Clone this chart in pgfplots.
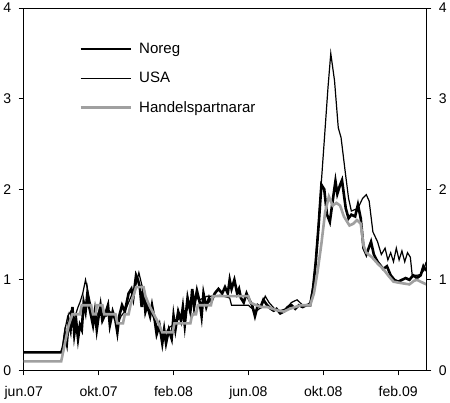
\documentclass[border=0pt]{standalone}
\usepackage{fontspec}
\setmainfont{Liberation Sans}
\usepackage{pgfplots}
\pgfplotsset{compat=1.18}
\definecolor{hpgray}{RGB}{160,160,160}
\pgfplotsset{
  frame/.style={
    scale only axis, width=400bp, height=360bp,
    xmin=0, xmax=21.5, ymin=0, ymax=4,
    ytick={0,1,2,3,4},
    tick align=outside,
    major tick length=5bp,
    tick style={black, line width=0.8pt},
    axis line style={line width=0.8pt},
    /pgf/number format/assume math mode=true,
    tick label style={font=\fontsize{14}{16}\selectfont},
  }
}
\begin{document}
\begin{tikzpicture}
\begin{axis}[
  frame,
  xtick={0,4,8,12,16,20},
  xticklabels={jun.07,okt.07,feb.08,jun.08,okt.08,feb.09},
  xtick pos=left, ytick pos=left,
  xticklabel style={yshift=-7bp},
  yticklabel style={xshift=-4bp},
  legend style={draw=none, fill=none, at={(rel axis cs:0.13,0.915)}, anchor=north west,
    font=\fontsize{15}{17}\selectfont, row sep=13bp},
  legend cell align=left,
  legend image code/.code={\draw[#1] (0bp,0bp) -- (50bp,0bp); \path (55bp,0bp);},
]
% Noreg
\addplot[black, line width=2.6pt] coordinates {
(0,0.2) (2.0,0.2) (2.1,0.25) (2.2,0.4) (2.3,0.3) (2.4,0.55) (2.5,0.45) (2.6,0.7) (2.7,0.4)
(2.8,0.55) (2.9,0.35) (3.0,0.5) (3.1,0.45) (3.2,0.75) (3.3,0.65) (3.4,0.85) (3.5,0.7)
(3.6,0.6) (3.7,0.5) (3.8,0.65) (3.9,0.45) (4.0,0.6) (4.1,0.72) (4.2,0.55) (4.35,0.62)
(4.5,0.72) (4.6,0.5) (4.75,0.65) (4.9,0.55) (5.0,0.42) (5.1,0.6) (5.25,0.72) (5.4,0.65)
(5.5,0.75) (5.6,0.85) (5.75,0.9) (5.85,0.8) (6.0,1.05) (6.1,1.0) (6.2,0.92) (6.3,0.7)
(6.4,0.9) (6.5,0.65) (6.6,0.72) (6.75,0.6) (6.85,0.72) (7.0,0.55) (7.1,0.4) (7.25,0.5)
(7.4,0.3) (7.5,0.45) (7.6,0.3) (7.75,0.45) (7.9,0.35) (8.0,0.6) (8.1,0.45) (8.25,0.65)
(8.4,0.55) (8.5,0.7) (8.6,0.5) (8.75,0.8) (8.9,0.65) (9.0,0.9) (9.1,0.7) (9.25,0.88)
(9.4,0.75) (9.5,0.6) (9.6,0.85) (9.75,0.7) (9.9,0.8) (10.0,0.75) (10.2,0.85) (10.4,0.9)
(10.6,0.85) (10.75,0.92) (10.9,0.85) (11.0,1.0) (11.1,0.9) (11.25,1.0) (11.4,0.85)
(11.5,0.9) (11.6,0.8) (11.75,0.75) (11.9,0.85) (12.0,0.8) (12.2,0.72) (12.35,0.6)
(12.5,0.72) (12.65,0.7) (12.8,0.78) (13.0,0.72) (13.2,0.68) (13.35,0.66) (13.5,0.68)
(13.7,0.63) (13.9,0.65) (14.1,0.7) (14.3,0.72) (14.5,0.68) (14.7,0.72) (14.9,0.7)
(15.1,0.72) (15.3,0.72) (15.45,0.9) (15.6,1.2) (15.75,1.6) (15.9,2.05) (16.05,2.0)
(16.2,1.72) (16.35,1.64) (16.5,1.87) (16.65,2.09) (16.75,1.95) (16.9,2.05) (17.0,2.1)
(17.2,1.79) (17.35,1.68) (17.5,1.72) (17.7,1.7) (17.85,1.83) (18.0,1.68) (18.15,1.35)
(18.3,1.28) (18.55,1.42) (18.7,1.28) (18.9,1.2) (19.2,1.12) (19.4,1.15) (19.6,1.05)
(19.8,1.0) (20.0,0.98) (20.2,1.0) (20.4,1.02) (20.6,1.0) (20.8,1.05) (21.0,1.02)
(21.2,1.05) (21.35,1.15) (21.5,1.1)
};
\addlegendentry{Noreg}
% USA
\addplot[black, line width=1.2pt] coordinates {
(0,0.2) (2.0,0.2) (2.1,0.3) (2.2,0.45) (2.35,0.6) (2.5,0.65) (2.6,0.5) (2.75,0.6)
(2.9,0.7) (3.0,0.75) (3.15,0.85) (3.3,1.0) (3.45,0.85) (3.6,0.7) (3.75,0.55) (3.9,0.6)
(4.0,0.65) (4.2,0.62) (4.4,0.6) (4.6,0.65) (4.8,0.6) (5.0,0.5) (5.2,0.6) (5.4,0.65)
(5.6,0.75) (5.8,0.85) (6.0,0.95) (6.15,1.08) (6.3,0.95) (6.45,0.82) (6.6,0.7) (6.8,0.65)
(7.0,0.55) (7.2,0.45) (7.4,0.4) (7.6,0.42) (7.8,0.48) (8.0,0.5) (8.2,0.55) (8.4,0.6)
(8.6,0.62) (8.8,0.7) (9.0,0.75) (9.2,0.8) (9.4,0.78) (9.6,0.8) (9.8,0.82) (10.0,0.82)
(10.5,0.83) (11.0,0.8) (11.1,0.72) (11.5,0.72) (12.0,0.72) (12.1,0.7) (12.4,0.65)
(12.7,0.7) (12.9,0.82) (13.1,0.75) (13.4,0.68) (13.7,0.66) (14.0,0.68) (14.3,0.75)
(14.6,0.78) (14.9,0.72) (15.1,0.72) (15.3,0.75) (15.5,1.0) (15.7,1.5) (15.9,2.09)
(16.05,2.53) (16.25,3.12) (16.4,3.5) (16.6,3.2) (16.8,2.68) (16.95,2.57) (17.15,2.23)
(17.35,1.9) (17.5,1.76) (17.85,1.79) (18.1,1.9) (18.3,1.94) (18.45,1.87) (18.65,1.53)
(18.9,1.42) (19.1,1.28) (19.3,1.35) (19.45,1.22) (19.6,1.3) (19.75,1.2) (19.9,1.35)
(20.05,1.22) (20.2,1.32) (20.35,1.2) (20.5,1.3) (20.65,1.25) (20.75,1.05) (21.0,1.05)
(21.2,1.06) (21.35,1.1) (21.5,1.2)
};
\addlegendentry{USA}
% Handelspartnarar
\addplot[hpgray, line width=2.6pt] coordinates {
(0,0.1) (2.0,0.1) (2.1,0.2) (2.25,0.35) (2.4,0.5) (2.6,0.62) (3.0,0.62) (3.1,0.72)
(3.6,0.72) (3.7,0.62) (3.85,0.62) (3.9,0.72) (4.2,0.72) (4.3,0.62) (4.9,0.62) (5.0,0.52)
(5.3,0.52) (5.4,0.62) (5.6,0.62) (5.7,0.72) (5.85,0.82) (6.0,0.92) (6.4,0.92) (6.5,0.82)
(6.7,0.72) (6.95,0.62) (7.2,0.52) (7.4,0.42) (7.95,0.42) (8.05,0.52) (8.9,0.52) (9.0,0.62)
(9.2,0.62) (9.3,0.72) (10.0,0.72) (10.1,0.82) (12.0,0.82) (12.1,0.75) (12.4,0.72)
(12.7,0.7) (13.0,0.7) (13.3,0.68) (13.6,0.66) (13.9,0.65) (14.2,0.68) (14.5,0.7)
(14.8,0.72) (15.1,0.72) (15.3,0.72) (15.5,0.85) (15.7,1.1) (15.9,1.4) (16.1,1.75)
(16.3,1.92) (16.5,1.82) (16.7,1.85) (16.9,1.82) (17.1,1.7) (17.4,1.6) (17.6,1.62)
(17.8,1.66) (18.0,1.62) (18.15,1.38) (18.3,1.3) (18.6,1.25) (18.9,1.18) (19.2,1.12)
(19.5,1.04) (19.75,0.98) (20.0,0.97) (20.3,0.96) (20.6,0.95) (20.85,0.99) (21.0,1.0)
(21.3,0.97) (21.5,0.95)
};
\addlegendentry{Handelspartnarar}
\end{axis}
\begin{axis}[
  frame,
  axis x line=none,
  axis y line*=right,
  yticklabel style={xshift=4bp},
]
\end{axis}
\end{tikzpicture}
\end{document}
